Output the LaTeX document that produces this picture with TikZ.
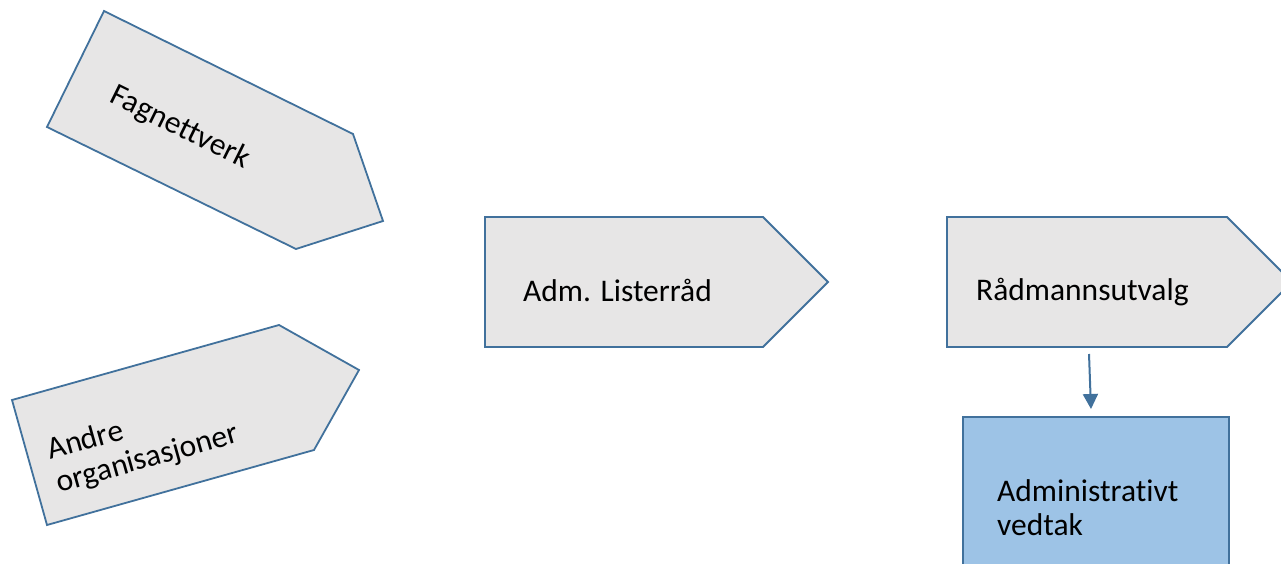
\documentclass[tikz,border=0pt]{standalone}
\usepackage{fontspec}
\setmainfont{Carlito}[Ligatures=CommonOff]
\usetikzlibrary{arrows.meta}
\definecolor{edge}{HTML}{41719C}
\definecolor{grayfill}{HTML}{E7E6E6}
\definecolor{bluefill}{HTML}{9DC3E6}
\tikzset{
  shapebox/.style={draw=edge, line width=1.8pt, fill=grayfill, line join=miter},
  bluebox/.style={draw=edge, line width=1.8pt, fill=bluefill},
  lbl/.style={font=\fontsize{31.5}{34}\selectfont, inner sep=0pt, align=left},
  conn/.style={draw=edge, line width=2pt, -{Triangle[length=15pt,width=15pt]}}
}
\begin{document}
\begin{tikzpicture}[x=1pt,y=-1pt]
\useasboundingbox (0,0) rectangle (1281,564);
\clip (0,0) rectangle (1281,564);
% Fagnettverk
\draw[shapebox] (104,11) -- (353,134) -- (383,221) -- (296,249) -- (47,127) -- cycle;
\node[lbl, rotate=-26.3] (fag) at (180,128) {Fagnettverk};
% Andre organisasjoner
\draw[shapebox] (12,400) -- (279,325) -- (359,370) -- (314,450) -- (47,525) -- cycle;
\node[lbl, rotate=15.7] (andre) at (143,443) {Andre\\organisasjoner};
% Adm. Listerråd
\draw[shapebox] (485,217) -- (763,217) -- (828,282) -- (763,347) -- (485,347) -- cycle;
\node[lbl, anchor=base west] (adm) at (523,301) {Adm. Listerråd};
% Rådmannsutvalg
\draw[shapebox] (947,217) -- (1227,217) -- (1292,282) -- (1227,347) -- (947,347) -- cycle;
\node[lbl, anchor=base west] (rad) at (976,300) {Rådmannsutvalg};
% Administrativt vedtak
\draw[bluebox] (963,417) rectangle (1229,580);
\node[lbl, anchor=base west] (vedtak) at (997,535) {Administrativt\\vedtak};
% connector
\coordinate (radbottom) at (1089,354);
\coordinate (vedtop) at (1091,409);
\draw[conn] (radbottom) -- (vedtop);
\end{tikzpicture}
\end{document}
